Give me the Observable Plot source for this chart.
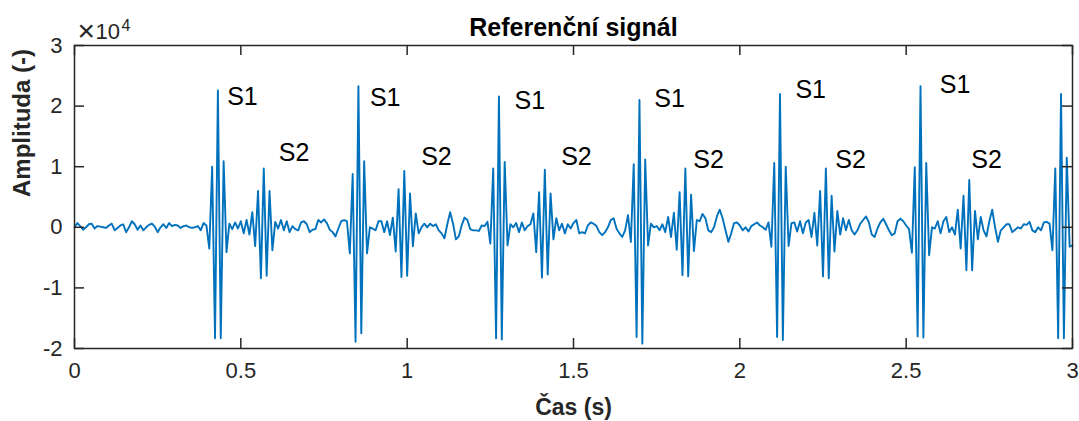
<!DOCTYPE html>
<html><head><meta charset="utf-8">
<script src="https://cdn.jsdelivr.net/npm/d3@7"></script>
<script src="https://cdn.jsdelivr.net/npm/@observablehq/plot@0.6"></script>
<style>html,body{margin:0;padding:0;background:#fff;} svg{display:block}</style>
</head><body><div id="chart"></div>
<script>
// sampling step of the signal (s)
const sampleStep = 3 / 348;
// amplitude in units of 10^4
const amplitude = [
  0.0, 0.07, 0.02, -0.04, 0.0, 0.05, 0.06, -0.02, 0.02, 0.01,
  0.0, -0.01, 0.03, 0.06, -0.05, -0.01, 0.03, 0.05, -0.08, 0.0,
  0.1, 0.05, -0.04, 0.03, -0.05, 0.0, 0.04, 0.06, 0.01, -0.08,
  0.0, 0.05, -0.01, 0.07, 0.02, 0.04, 0.03, -0.01, 0.02, 0.03,
  0.0, -0.01, 0.0, 0.02, -0.05, 0.07, 0.03,
  -0.35, 1.0, -1.83, 2.26, -1.83, 1.09, -0.41,
  0.06, -0.03, 0.08, -0.02, 0.1, -0.1, 0.12, -0.12,
  0.25, -0.31, 0.6, -0.84, 0.97, -0.8, 0.6, -0.38,
  0.09, -0.02, 0.12, -0.05, 0.1, -0.08, 0.02, -0.03, -0.05, 0.08, 0.1, 0.05, -0.08, -0.04, -0.03, 0.12,
  0.08, 0.13, 0.07, -0.04, -0.08, -0.15, -0.02, 0.1, 0.12, 0.1,
  -0.43, 0.88, -1.89, 2.33, -1.75, 1.09, -0.43,
  0.0, -0.02, -0.05, 0.1, 0.1, -0.08, 0.1, -0.13, 0.16,
  -0.4, 0.63, -0.82, 0.93, -0.8, 0.56, -0.31, 0.23,
  -0.1, 0.0, 0.06, 0.0, 0.06, 0.02, 0.05, -0.05, -0.1, -0.18, 0.05, 0.25, 0.06, -0.2, -0.15, 0.03, 0.16, 0.12, -0.03, -0.05, -0.05, -0.06, 0.03, 0.02, 0.09,
  -0.27, 0.97, -1.83, 2.16, -1.85, 1.08, -0.3,
  0.05, 0.0, 0.07, -0.08, 0.08, -0.05, 0.02, 0.05, 0.23,
  -0.41, 0.58, -0.83, 0.95, -0.78, 0.56, -0.2, 0.15,
  -0.05, 0.06, -0.1, 0.05, -0.02,
  0.07, 0.12, -0.1, -0.08, -0.1, 0.03, 0.08, 0.06, 0.02, -0.08, -0.13, -0.08, 0.0, 0.12, 0.15, -0.02, -0.1, -0.16, -0.05, 0.2,
  -0.24, 1.04, -1.81, 2.1, -1.92, 1.12, -0.3,
  0.06, 0.0, 0.02, -0.05, 0.05, -0.08, 0.17, -0.16,
  0.24, -0.37, 0.58, -0.79, 0.97, -0.81, 0.54, -0.39, 0.12,
  0.1, 0.22, 0.15, -0.05, -0.08, 0.0, 0.18, 0.29, 0.15, -0.05, -0.24, -0.1, 0.07, 0.08, 0.03, -0.05, 0.0, -0.07, 0.02, 0.05, 0.08, 0.03, 0.0, -0.04, 0.08,
  -0.32, 1.06, -1.81, 2.2, -1.86, 1.0, -0.31,
  0.07, 0.08, -0.07, 0.1, -0.1, 0.08, 0.12, -0.16,
  0.24, -0.3, 0.6, -0.81, 0.97, -0.84, 0.52, -0.4, 0.27,
  -0.12, 0.15, -0.05, 0.12, -0.05, -0.12, -0.05, 0.06, 0.12, 0.18, 0.08, -0.12, -0.16, -0.02, 0.08, 0.14, 0.05, -0.05, -0.13, -0.1, 0.1, 0.14, 0.1, 0.03, -0.03,
  -0.42, 0.99, -1.8, 2.33, -1.82, 1.06, -0.46,
  0.0, -0.02, 0.1, -0.1, 0.1, 0.17, -0.08, 0.0, -0.12,
  0.29, -0.35, 0.52, -0.71, 0.78, -0.71,
  0.27, -0.2, 0.17, -0.05, -0.15, 0.1, 0.29, 0.0, -0.24, -0.05, 0.0, 0.05, 0.05, -0.08, -0.04, 0.0, -0.02, 0.05, 0.04, 0.09, -0.05, -0.08, 0.0, -0.05, 0.08, 0.09, 0.06,
  -0.38, 0.97, -1.83, 2.2, -1.83, 1.15, -0.32, -0.3
];
const xTicks = [0, 0.5, 1, 1.5, 2, 2.5, 3];
const yTicks = [-2, -1, 0, 1, 2, 3];
// annotation positions (time s, amplitude 10^4)
const s1Time = [0.459, 0.888, 1.323, 1.743, 2.167, 2.601];
const s1Amp = [2.15, 2.13, 2.08, 2.12, 2.26, 2.34];
const s2Time = [0.614, 1.042, 1.463, 1.860, 2.287, 2.696];
const s2Amp = [1.22, 1.16, 1.16, 1.11, 1.11, 1.11];

const signal = amplitude.map((v, i) => ({t: i * sampleStep, v}));
const s1 = s1Time.map((t, i) => ({t, v: s1Amp[i], label: "S1"}));
const s2 = s2Time.map((t, i) => ({t, v: s2Amp[i], label: "S2"}));

const W = 1079, H = 421, mL = 74, mR = 7, mT = 45, mB = 73;
const fw = W - mL - mR, fh = H - mT - mB, tl = 10;
const axisColor = "#262626";
const font = "'Liberation Sans', Arial, Helvetica, sans-serif";

const chart = Plot.plot({
  width: W, height: H,
  marginLeft: mL, marginRight: mR, marginTop: mT, marginBottom: mB,
  style: {fontFamily: font, background: "#fff", color: axisColor},
  x: {domain: [0, 3]},
  y: {domain: [-2, 3]},
  marks: [
    Plot.line(signal, {x: "t", y: "v", stroke: "#0072BD", strokeWidth: 1.9}),
    Plot.frame({stroke: axisColor, strokeWidth: 1.5}),
    Plot.tickX(xTicks, {x: d => d, stroke: axisColor, strokeWidth: 1.5, insetTop: fh - tl}),
    Plot.tickX(xTicks, {x: d => d, stroke: axisColor, strokeWidth: 1.5, insetBottom: fh - tl}),
    Plot.tickY(yTicks, {y: d => d, stroke: axisColor, strokeWidth: 1.5, insetRight: fw - tl}),
    Plot.tickY(yTicks, {y: d => d, stroke: axisColor, strokeWidth: 1.5, insetLeft: fw - tl}),
    Plot.axisX(xTicks, {tickSize: 0, tickPadding: 14, fontSize: 22, fill: axisColor, label: null, tickFormat: d => String(d)}),
    Plot.axisY(yTicks, {tickSize: 0, tickPadding: 12, fontSize: 22, fill: axisColor, label: null, tickFormat: d => String(d)}),
    Plot.text(s1, {x: "t", y: "v", text: "label", textAnchor: "start", lineAnchor: "middle", fontSize: 25, fill: "#000"}),
    Plot.text(s2, {x: "t", y: "v", text: "label", textAnchor: "start", lineAnchor: "middle", fontSize: 25, fill: "#000"}),
    Plot.text(["Referenční signál"], {frameAnchor: "top", lineAnchor: "middle", dy: -18, fontSize: 25, fontWeight: "bold", fill: "#000"}),
    Plot.text(["×"], {frameAnchor: "top-left", lineAnchor: "middle", dx: 3, dy: -14, textAnchor: "start", fontSize: 30, fill: axisColor}),
    Plot.text(["10"], {frameAnchor: "top-left", lineAnchor: "middle", dx: 21, dy: -14, textAnchor: "start", fontSize: 22, fill: axisColor}),
    Plot.text(["4"], {frameAnchor: "top-left", lineAnchor: "middle", dx: 47, dy: -20, textAnchor: "start", fontSize: 16, fill: axisColor}),
    Plot.text(["Čas (s)"], {frameAnchor: "bottom", lineAnchor: "middle", dy: 59, fontSize: 23, fontWeight: "bold", fill: axisColor}),
    Plot.text(["Amplituda (-)"], {frameAnchor: "left", lineAnchor: "middle", dx: -52, rotate: -90, fontSize: 24, fontWeight: "bold", fill: axisColor})
  ]
});
document.getElementById("chart").appendChild(chart);
</script>
</body></html>
